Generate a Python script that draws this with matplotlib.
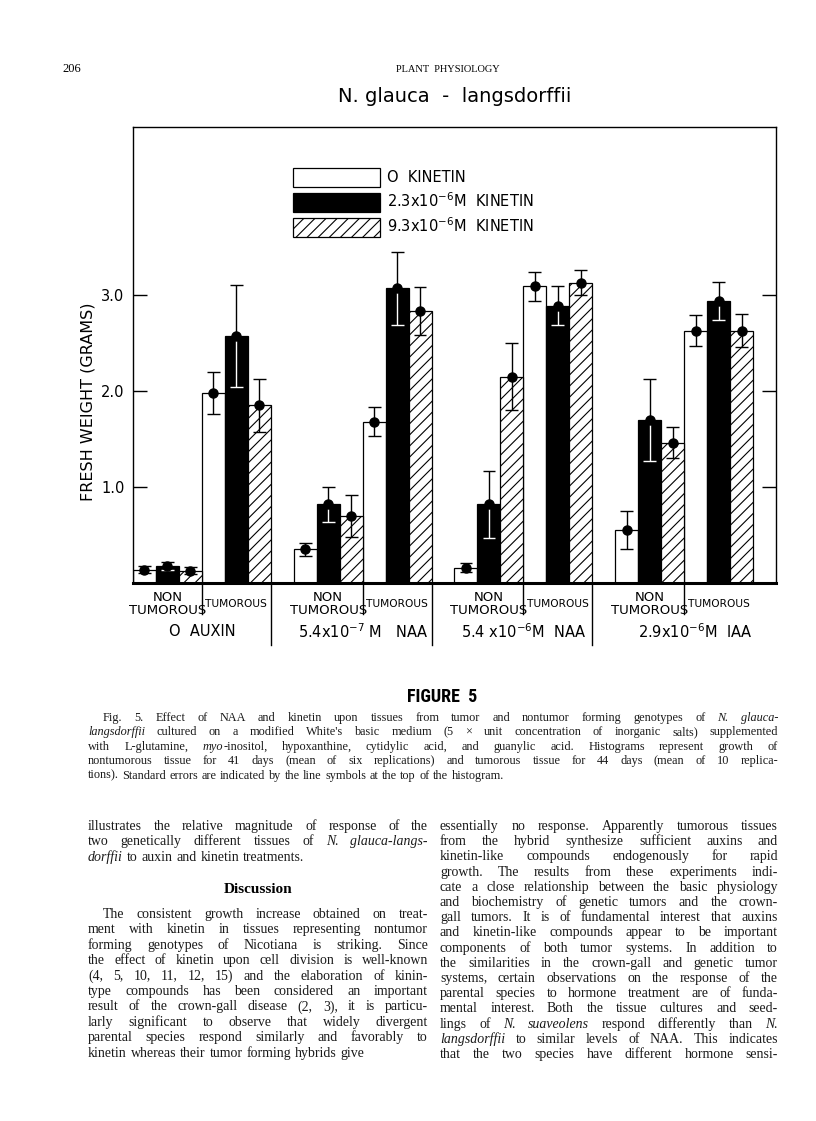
import matplotlib
matplotlib.use('Agg')
import matplotlib.pyplot as plt
from matplotlib import font_manager
from matplotlib.font_manager import FontProperties

# ---- data (fresh weight, grams) ----
auxin = ['O  AUXIN', '5.4x10$^{-7}$ M   NAA', '5.4 x10$^{-6}$M  NAA', '2.9x10$^{-6}$M  IAA']
tissue = ['NON TUMOROUS', 'TUMOROUS']
kinetin = ['O  KINETIN', '2.3x10$^{-6}$M  KINETIN', '9.3x10$^{-6}$M  KINETIN']

# order: O-NT, O-T, NAA7-NT, NAA7-T, NAA6-NT, NAA6-T, IAA-NT, IAA-T
k0 = [0.14, 1.98, 0.35, 1.68, 0.16, 3.09, 0.55, 2.63]
k0_se = [0.04, 0.22, 0.07, 0.15, 0.05, 0.15, 0.20, 0.16]
k23 = [0.18, 2.57, 0.82, 3.07, 0.82, 2.89, 1.70, 2.94]
k23_se = [0.04, 0.53, 0.18, 0.38, 0.35, 0.20, 0.43, 0.20]
k93 = [0.13, 1.85, 0.70, 2.83, 2.15, 3.13, 1.46, 2.63]
k93_se = [0.04, 0.28, 0.22, 0.25, 0.35, 0.13, 0.16, 0.17]

yticks = [1.0, 2.0, 3.0]

caption = [
    "Fig. 5.  Effect of NAA and kinetin upon tissues from tumor and nontumor forming genotypes of *N. glauca-*",
    "*langsdorffii* cultured on a modified White's basic medium (5 \u00d7 unit concentration of inorganic salts) supplemented",
    "with L-glutamine, *myo*-inositol, hypoxanthine, cytidylic acid, and guanylic acid.  Histograms represent growth of",
    "nontumorous tissue for 41 days (mean of six replications) and tumorous tissue for 44 days (mean of 10 replica-",
    "tions).  Standard errors are indicated by the line symbols at the top of the histogram.",
]
left_top = [
    "illustrates the relative magnitude of response of the",
    "two genetically different tissues of *N. glauca-langs-*",
    "*dorffii* to auxin and kinetin treatments.",
]
left_bottom = [
    "The consistent growth increase obtained on treat-",
    "ment with kinetin in tissues representing nontumor",
    "forming genotypes of Nicotiana is striking.  Since",
    "the effect of kinetin upon cell division is well-known",
    "(4, 5, 10, 11, 12, 15)  and the elaboration of kinin-",
    "type compounds has been considered an important",
    "result of the crown-gall disease (2, 3), it is particu-",
    "larly significant to observe that widely divergent",
    "parental species respond similarly and favorably to",
    "kinetin whereas their tumor forming hybrids give",
]
right_col = [
    "essentially no response.  Apparently tumorous tissues",
    "from the hybrid synthesize sufficient auxins and",
    "kinetin-like compounds endogenously for rapid",
    "growth.  The results from these experiments indi-",
    "cate a close relationship between the basic physiology",
    "and biochemistry of genetic tumors and the crown-",
    "gall tumors.  It is of fundamental interest that auxins",
    "and kinetin-like compounds appear to be important",
    "components of both tumor systems.  In addition to",
    "the similarities in the crown-gall and genetic tumor",
    "systems, certain observations on the response of the",
    "parental species to hormone treatment are of funda-",
    "mental interest.  Both the tissue cultures and seed-",
    "lings of *N. suaveolens* respond differently than *N.*",
    "*langsdorffii* to similar levels of NAA.  This indicates",
    "that the two species have different hormone sensi-",
]

W, H = 816, 1121
SERIF = 'Liberation Serif'
SANS = 'DejaVu Sans'
installed = {f.name for f in font_manager.fontManager.ttflist}
NARROW = SANS
for cand in ['Liberation Sans Narrow', 'DejaVu Sans Condensed', 'Roboto Condensed']:
    if cand in installed:
        NARROW = cand
        break

plt.rcParams['hatch.linewidth'] = 0.8
fig = plt.figure(figsize=(W / 100, H / 100), dpi=100)
renderer = fig.canvas.get_renderer()


def fx(x):
    return x / W


def fy(y):
    return 1 - y / H


# ---- chart ----
ax = fig.add_axes([fx(133), fy(583), (776 - 133) / W, (583 - 127) / H])

starts = [7 * g + 3 * t for g in range(len(auxin)) for t in range(len(tissue))]
series = [(k0, k0_se, 'white', ''), (k23, k23_se, 'black', ''), (k93, k93_se, 'white', '///')]

for i, (vals, se, fc, hatch) in enumerate(series):
    xs = [s + i + 0.5 for s in starts]
    ax.bar(xs, vals, width=1.0, color=fc, edgecolor='black', linewidth=0.9,
           hatch=hatch, label=kinetin[i], zorder=2)
    lo_col = 'white' if fc == 'black' else 'black'
    up = [v + e for v, e in zip(vals, se)]
    lo = [v - e for v, e in zip(vals, se)]
    ax.vlines(xs, vals, up, colors='black', linewidth=1.0, zorder=3)
    ax.hlines(up, [x - 0.28 for x in xs], [x + 0.28 for x in xs], colors='black', linewidth=1.0, zorder=3)
    ax.vlines(xs, lo, vals, colors=lo_col, linewidth=1.0, zorder=3)
    ax.hlines(lo, [x - 0.28 for x in xs], [x + 0.28 for x in xs], colors=lo_col, linewidth=1.0, zorder=3)
    ax.plot(xs, vals, 'o', color='black', markersize=6.5, zorder=4)

ax.set_xlim(0, 28)
ax.set_ylim(0, 4.75)
ax.set_xticks([])
ax.set_yticks(yticks)
ax.set_yticklabels([f"{t:.1f}" for t in yticks], fontsize=10.5, family=SANS)
ax.tick_params(axis='y', direction='in', length=10, width=1.0, right=True, pad=6)
for sp in ['left', 'right', 'top']:
    ax.spines[sp].set_linewidth(1.0)
ax.spines['bottom'].set_linewidth(2.2)
ax.set_ylabel('FRESH WEIGHT (GRAMS)', fontsize=11.5, family=SANS)
ax.yaxis.set_label_coords(-0.058, 0.397)

ax.legend(loc='upper left', bbox_to_anchor=(0.249, 0.910), frameon=False,
          prop={'family': SANS, 'size': 10.5},
          handlelength=5.97, handleheight=1.58, labelspacing=0.34,
          handletextpad=0.47, borderpad=0, borderaxespad=0)

# labels under the axis
tr = ax.get_xaxis_transform()
for g in range(len(auxin)):
    nt = 7 * g
    ax.text(nt + 1.5, -0.031, 'NON', transform=tr, ha='center', va='center', fontsize=9.5, family=SANS)
    ax.text(nt + 1.5, -0.061, 'TUMOROUS', transform=tr, ha='center', va='center', fontsize=9.5, family=SANS)
    ax.text(nt + 4.5, -0.046, 'TUMOROUS', transform=tr, ha='center', va='center', fontsize=7.7, family=SANS)
    ax.plot([nt + 3, nt + 3], [0, -0.068], transform=tr, color='black', lw=1.0, clip_on=False)
    ax.text(nt + 3.0 + (0.5 if g == 3 else 0), -0.107, auxin[g], transform=tr, ha='center', va='center',
            fontsize=10.5, family=SANS)
    if g > 0:
        ax.plot([nt - 1, nt - 1], [0, -0.136], transform=tr, color='black', lw=1.0, clip_on=False)

# ---- page text ----
fig.text(fx(62), fy(72), '206', fontsize=9, family=SERIF, va='baseline')
fig.text(fx(448), fy(72), 'PLANT  PHYSIOLOGY', fontsize=7.5, family=SERIF, ha='center', va='baseline')
fig.text(fx(455), fy(97), 'N. glauca  -  langsdorffii', fontsize=14, family=SANS, ha='center', va='center')
fig.text(fx(442), fy(697), 'FIGURE  5', fontsize=13, family=NARROW, weight='bold', ha='center', va='center')


def parse(line):
    words = []
    ital = False
    for raw in line.split():
        segs = []
        for k, p in enumerate(raw.split('*')):
            if k > 0:
                ital = not ital
            if p:
                segs.append((p, ital))
        words.append(segs)
    return words


def text_w(s, italic, size):
    fp = FontProperties(family=SERIF, style='italic' if italic else 'normal', size=size)
    w, h, d = renderer.get_text_width_height_descent(s, fp, ismath=False)
    return w


def put_line(line, x0, x1, y, size, justify=True, indent=0):
    words = parse(line)
    widths = [sum(text_w(s, it, size) for s, it in w) for w in words]
    space = size * 100 / 72 * 0.28
    gap = space
    if justify and len(words) > 1:
        gap = max((x1 - x0 - indent - sum(widths)) / (len(words) - 1), space * 0.6)
    x = x0 + indent
    for w, wd in zip(words, widths):
        xx = x
        for s, it in w:
            fig.text(fx(xx), fy(y), s, fontsize=size, family=SERIF,
                     style='italic' if it else 'normal', va='baseline', color='#1a1a1a')
            xx += text_w(s, it, size)
        x += wd + gap


for j, line in enumerate(caption):
    put_line(line, 88, 778, 721 + j * 14.4, 8.8, justify=j < len(caption) - 1, indent=15 if j == 0 else 0)

for j, line in enumerate(left_top):
    put_line(line, 88, 428, 830 + j * 15.3, 10, justify=j < len(left_top) - 1)
fig.text(fx(258), fy(893), 'Discussion', fontsize=11, family=SERIF, weight='bold', ha='center', va='baseline')
for j, line in enumerate(left_bottom):
    put_line(line, 88, 428, 918 + j * 15.4, 10, justify=j < len(left_bottom) - 1, indent=15 if j == 0 else 0)
for j, line in enumerate(right_col):
    put_line(line, 440, 778, 830 + j * 15.2, 10, justify=True)

fig.savefig('out.png', dpi=100)
